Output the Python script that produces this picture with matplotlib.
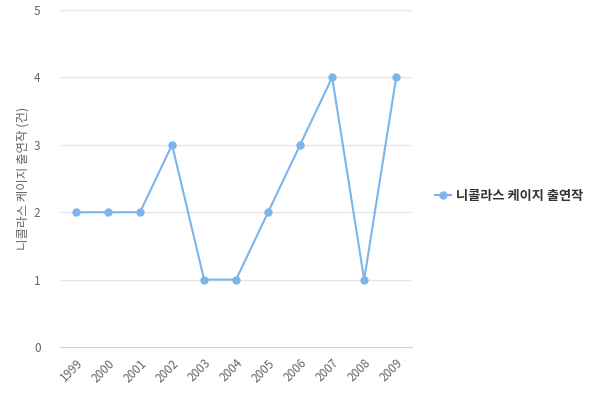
import matplotlib
matplotlib.use("Agg")
import matplotlib.pyplot as plt
from matplotlib.lines import Line2D

plt.rcParams['font.family'] = ['Noto Sans CJK KR', 'DejaVu Sans']

years = ["1999", "2000", "2001", "2002", "2003", "2004", "2005", "2006", "2007", "2008", "2009"]
counts = [2, 2, 2, 3, 1, 1, 2, 3, 4, 1, 4]
series_name = "니콜라스 케이지 출연작"
y_label = "니콜라스 케이지 출연작 (건)"

color = "#7cb5ec"

fig = plt.figure(figsize=(6, 4), dpi=100)
ax = fig.add_axes([0.1, 0.1325, 0.587, 0.8425])

x = list(range(len(years)))
ax.plot(x, counts, color=color, linewidth=1.5, marker="o", markersize=6,
        markeredgewidth=0, zorder=3)

ax.set_xlim(-0.5, len(years) - 0.5)
ax.set_ylim(0, 5)
ax.set_yticks(range(6))
ax.set_xticks(x)
ax.set_xticklabels(years, rotation=45, ha="right", rotation_mode="anchor")
ax.tick_params(axis="x", length=0, pad=7, labelsize=8.5, labelcolor="#666666")
ax.tick_params(axis="y", length=0, pad=14, labelsize=8.5, labelcolor="#666666")

ax.grid(axis="y", color="#e6e6e6", linewidth=1)
ax.set_axisbelow(True)
for side in ["top", "right", "left"]:
    ax.spines[side].set_visible(False)
ax.spines["bottom"].set_color("#ccd6eb")
ax.spines["bottom"].set_zorder(2)

ax.set_ylabel(y_label, color="#666666", fontsize=9, labelpad=3)

handle = Line2D([], [], color=color, linewidth=1.5, marker="o", markersize=6, markeredgewidth=0)
leg = fig.legend([handle], [series_name], loc="center left", bbox_to_anchor=(0.705, 0.51),
                 frameon=False, handlelength=1.2, handletextpad=0.4,
                 prop={"size": 9.5, "weight": "bold"})
for t in leg.get_texts():
    t.set_color("#333333")

fig.savefig("out.png", dpi=100)
